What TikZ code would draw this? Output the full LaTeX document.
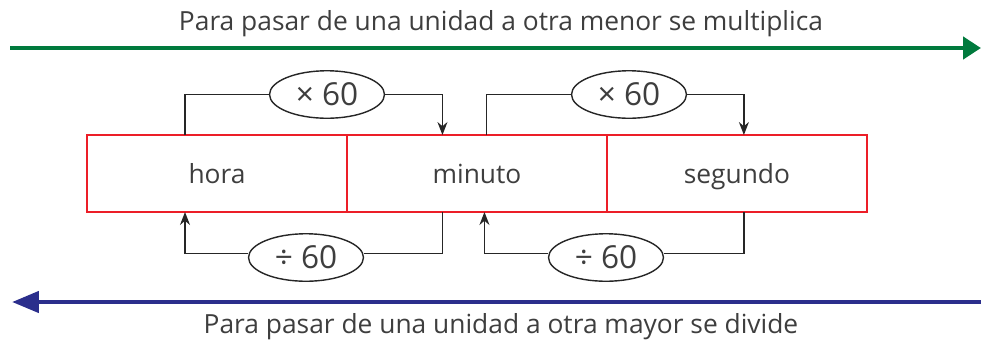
\documentclass[tikz,border=0pt]{standalone}
\usepackage{fontspec}
\setmainfont{Open Sans}
\usetikzlibrary{arrows.meta,positioning,shapes.geometric}

\definecolor{flechaverde}{RGB}{0,122,61}
\definecolor{flechaazul}{RGB}{43,46,140}
\definecolor{rojocaja}{RGB}{236,30,40}
\definecolor{texto}{RGB}{62,62,62}

\begin{document}
\begin{tikzpicture}[x=0.02cm, y=-0.02cm,
  unidad/.style={rectangle, draw=rojocaja, line width=1.2pt, minimum width=5.2cm, minimum height=1.54cm, outer sep=0pt, text height=2.1ex, text depth=0ex, font=\fontsize{15}{18}\selectfont, text=texto},
  factor/.style={ellipse, draw=black!85, line width=0.8pt, minimum width=2.3cm, minimum height=0.95cm, inner sep=0pt, fill=white, font=\fontsize{18}{21}\selectfont, text=texto},
  conn/.style={line width=0.8pt, draw=black!85},
  arr/.style={conn, -{Stealth[length=2.6mm,width=2mm]}},
  lema/.style={font=\fontsize{15}{18}\selectfont, text=texto},
  regla/.style={line width=2.6pt}
]
\useasboundingbox (0,0) rectangle (981,346);
% cajas de unidades
\node[unidad] (hora) at (217,173.5) {hora};
\node[unidad, right=0pt of hora] (minuto) {minuto};
\node[unidad, right=0pt of minuto] (segundo) {segundo};
% factores
\node[factor] (mult1) at (327,94.5) {× 60};
\node[factor] (mult2) at (629,94.5) {× 60};
\node[factor] (div1) at (306,257.5) {÷ 60};
\node[factor] (div2) at (606,257.5) {÷ 60};
% conectores de arriba
\draw[conn] ([xshift=-0.64cm]hora.north) |- (mult1.west);
\draw[arr] (mult1.east) -| ([xshift=-0.69cm]minuto.north);
\draw[conn] ([xshift=0.19cm]minuto.north) |- (mult2.west);
\draw[arr] (mult2.east) -| ([xshift=0.14cm]segundo.north);
% conectores de abajo
\draw[conn] ([xshift=-0.69cm]minuto.south) |- ([yshift=0.08cm]div1.east);
\draw[arr] ([yshift=0.08cm]div1.west) -| ([xshift=-0.64cm]hora.south);
\draw[conn] ([xshift=0.14cm]segundo.south) |- ([yshift=0.08cm]div2.east);
\draw[arr] ([yshift=0.08cm]div2.west) -| ([xshift=0.15cm]minuto.south);
% flechas de las reglas
\coordinate (verdeA) at (10,48);
\coordinate (verdeB) at (981,48);
\coordinate (azulA) at (981,302);
\coordinate (azulB) at (12,302);
\draw[regla, flechaverde, -{Triangle[length=0.36cm,width=0.44cm]}] (verdeA) -- (verdeB);
\draw[regla, flechaazul, -{Triangle[length=0.54cm,width=0.42cm]}] (azulA) -- (azulB);
\node[lema] (menor) at (501,24) {Para pasar de una unidad a otra menor se multiplica};
\node[lema] (mayor) at (501,327) {Para pasar de una unidad a otra mayor se divide};
\end{tikzpicture}
\end{document}
